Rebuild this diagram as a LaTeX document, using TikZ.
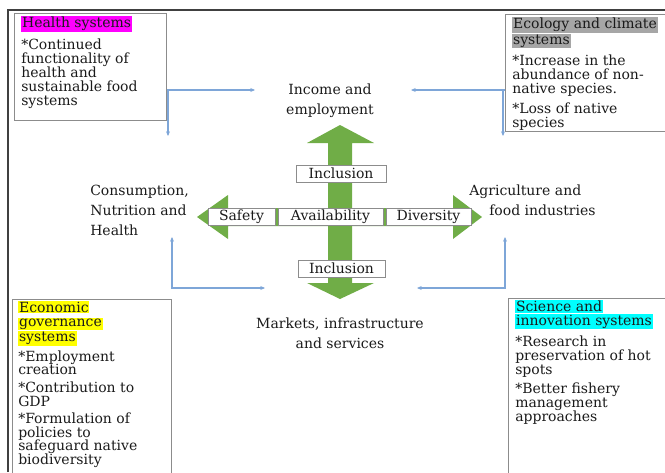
\documentclass[tikz,border=0pt]{standalone}
\usepackage{fontspec}
\setmainfont{DejaVu Serif}
\usetikzlibrary{arrows.meta}

\definecolor{frameline}{HTML}{404040}
\definecolor{boxline}{HTML}{8C8C8C}
\definecolor{linkblue}{HTML}{7EA6D8}
\definecolor{arrowgreen}{HTML}{70AD47}
\definecolor{hlmag}{HTML}{FF00FF}
\definecolor{hlyel}{HTML}{FFFF00}
\definecolor{hlcyan}{HTML}{00FFFF}
\definecolor{hlgray}{HTML}{A6A6A6}
\definecolor{txt}{HTML}{1A1A1A}

\newcommand\hlbox[2]{{\setlength\fboxsep{0.6pt}\colorbox{#1}{#2}}}

\tikzset{
  sysbox/.style={draw=boxline, line width=0.8pt, anchor=north west, inner sep=0pt},
  boxtxt/.style={anchor=north west, align=left, inner sep=0pt, text=txt, font=\fontsize{10.5}{10.4}\selectfont},
  lbl/.style={align=center, inner sep=0pt, text=txt, font=\fontsize{10.5}{15}\selectfont},
  tag/.style={draw=boxline, fill=white, line width=0.7pt, inner xsep=0pt, inner ysep=0pt, minimum height=12.75pt, text=txt, font=\fontsize{10.5}{12}\selectfont},
  link/.style={draw=linkblue, line width=0.8pt, -{Stealth[length=3.5pt,width=3pt]}},
  linkboth/.style={draw=linkblue, line width=0.8pt, {Stealth[length=3.5pt,width=3pt]}-{Stealth[length=3.5pt,width=3pt]}},
  bigarrow/.style={fill=arrowgreen, draw=none}
}

\begin{document}
\begin{tikzpicture}[x=0.75pt,y=-0.75pt]
\useasboundingbox (0,0) rectangle (665,472);
\draw[frameline, line width=1.1pt] (8,472) -- (8,10) -- (665,10);

\node[sysbox, minimum width=114pt, minimum height=80.25pt] (health) at (14,13) {};
\node[sysbox, minimum width=127.5pt, minimum height=88pt] (ecology) at (505,14) {};
\node[sysbox, minimum width=119.25pt, minimum height=135.75pt] (econ) at (12,299) {};
\node[sysbox, minimum width=125.25pt, minimum height=136.5pt] (science) at (508,298) {};

\node[boxtxt] (healthtxt) at (21,16) {\hlbox{hlmag}{Health systems}\\[4.5pt]
  *Continued\\functionality of\\health and\\sustainable food\\systems};
\node[boxtxt] (ecotxt) at (512,17) {\hlbox{hlgray}{Ecology and climate}\\\hlbox{hlgray}{systems}\\[4pt]
  *Increase in the\\abundance of non-\\native species.\\[5pt]*Loss of native\\species};
\node[boxtxt] (econtxt) at (18,301) {\hlbox{hlyel}{Economic}\\\hlbox{hlyel}{governance}\\\hlbox{hlyel}{systems}\\[2.5pt]
  *Employment\\creation\\[2.8pt]*Contribution to\\GDP\\[2.2pt]*Formulation of\\policies to\\safeguard native\\biodiversity};
\node[boxtxt] (scitxt) at (515,300) {\hlbox{hlcyan}{Science and}\\\hlbox{hlcyan}{innovation systems}\\[4pt]
  *Research in\\preservation of hot\\spots\\[4pt]*Better fishery\\management\\approaches};

\node[lbl] (income) at (330,101) {Income and\\employment};
\node[lbl, align=left, anchor=west] (consum) at (90,210) {Consumption,\\Nutrition and\\Health};
\node[lbl, align=left, anchor=west] (agri) at (469,200) {Agriculture and\\\hspace*{15pt}food industries};
\node[lbl] (markets) at (340,333) {Markets, infrastructure\\and services};

\fill[bigarrow] (328,143) -- (307,143) -- (340,125) -- (374,143) -- (352,143) -- (352,283)
  -- (374,283) -- (340,299) -- (307,283) -- (328,283) -- cycle;
\fill[bigarrow] (228,208) -- (228,195) -- (197,217) -- (228,239) -- (228,226) -- (453,226)
  -- (453,239) -- (482,217) -- (453,195) -- (453,208) -- cycle;

\node[tag, minimum width=50.25pt] (safety) at (241.5,216.5) {Safety};
\node[tag, minimum width=78.75pt] (avail) at (330.5,216.5) {Availability};
\node[tag, minimum width=63.75pt] (divers) at (428.5,216.5) {Diversity};
\node[tag, minimum width=67.5pt] (inclup) at (341,173.5) {Inclusion};
\node[tag, minimum width=65.25pt] (incldn) at (341.5,268.5) {Inclusion};

\coordinate (hj) at (168,90);
\coordinate (hi) at (255,90);
\coordinate (hd) at (168,136);
\coordinate (ej) at (503,90);
\coordinate (ei) at (411,90);
\coordinate (ed) at (503,136);
\coordinate (cu) at (172,237);
\coordinate (mr) at (265,288);
\coordinate (au) at (505,237);
\coordinate (ml) at (417,288);
\draw[link] (health.east |- hj) -- (hi);
\draw[link] (hj) -- (hd);
\draw[link] (ecology.west |- ej) -- (ei);
\draw[link] (ej) -- (ed);
\draw[linkboth] (cu) |- (mr);
\draw[linkboth] (au) |- (ml);
\end{tikzpicture}
\end{document}
